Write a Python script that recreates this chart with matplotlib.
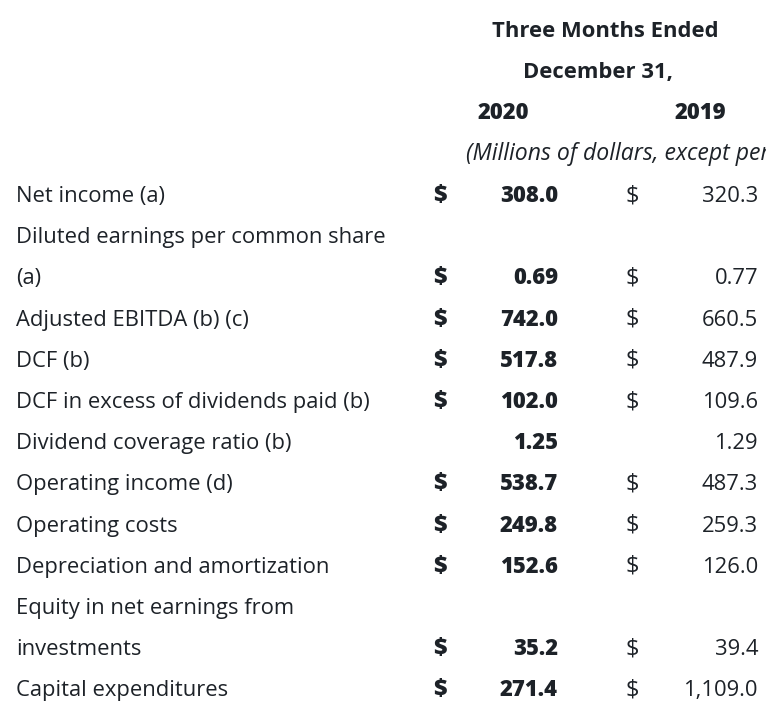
import matplotlib.pyplot as plt

plt.rcParams['font.family'] = ['Open Sans', 'DejaVu Sans']

# table data
row_labels = [
    ["Net income (a)"],
    ["Diluted earnings per common share", "(a)"],
    ["Adjusted EBITDA (b) (c)"],
    ["DCF (b)"],
    ["DCF in excess of dividends paid (b)"],
    ["Dividend coverage ratio (b)"],
    ["Operating income (d)"],
    ["Operating costs"],
    ["Depreciation and amortization"],
    ["Equity in net earnings from", "investments"],
    ["Capital expenditures"],
]
values_2020 = ["308.0", "0.69", "742.0", "517.8", "102.0", "1.25",
               "538.7", "249.8", "152.6", "35.2", "271.4"]
values_2019 = ["320.3", "0.77", "660.5", "487.9", "109.6", "1.29",
               "487.3", "259.3", "126.0", "39.4", "1,109.0"]
has_dollar = [True, True, True, True, True, False,
              True, True, True, True, True]

header_lines = ["Three Months Ended", "December 31,"]
years = ["2020", "2019"]
units_note = "(Millions of dollars, except per share amounts)"

W, H = 766, 708
fig = plt.figure(figsize=(W / 100, H / 100), dpi=100)
ax = fig.add_axes([0, 0, 1, 1])
ax.set_xlim(0, W)
ax.set_ylim(H, 0)
ax.axis('off')

ink = '#1d2228'
fs = 15.8
bold = 800
line_h = 41.2
first_line = 194
off = 8  # baseline offset from line centre

ax.text(605, 29 + off, header_lines[0], fontsize=fs, fontweight='bold',
        color=ink, ha='center', va='baseline')
ax.text(598, 70 + off, header_lines[1], fontsize=fs, fontweight='bold',
        color=ink, ha='center', va='baseline')
ax.text(503, 111 + off, years[0], fontsize=fs, fontweight=bold,
        color=ink, ha='center', va='baseline')
ax.text(700, 111 + off, years[1], fontsize=fs, fontweight=bold,
        color=ink, ha='center', va='baseline')
ax.text(466, 152 + off, units_note, fontsize=16.6, fontstyle='italic',
        color=ink, ha='left', va='baseline', clip_on=True)

line = 0
for lbl, v20, v19, dol in zip(row_labels, values_2020, values_2019, has_dollar):
    for part in lbl:
        y = first_line + line * line_h + off
        ax.text(16, y, part, fontsize=fs, color=ink, ha='left', va='baseline')
        line += 1
    y = first_line + (line - 1) * line_h + off
    if dol:
        ax.text(440, y, "$", fontsize=fs + 1, fontweight=bold, color=ink,
                ha='center', va='baseline')
        ax.text(632, y, "$", fontsize=fs + 1, color=ink, ha='center', va='baseline')
    ax.text(558, y, v20, fontsize=fs, fontweight=bold, color=ink,
            ha='right', va='baseline')
    ax.text(758, y, v19, fontsize=fs, color=ink, ha='right', va='baseline')

fig.savefig('out.png', dpi=100)
